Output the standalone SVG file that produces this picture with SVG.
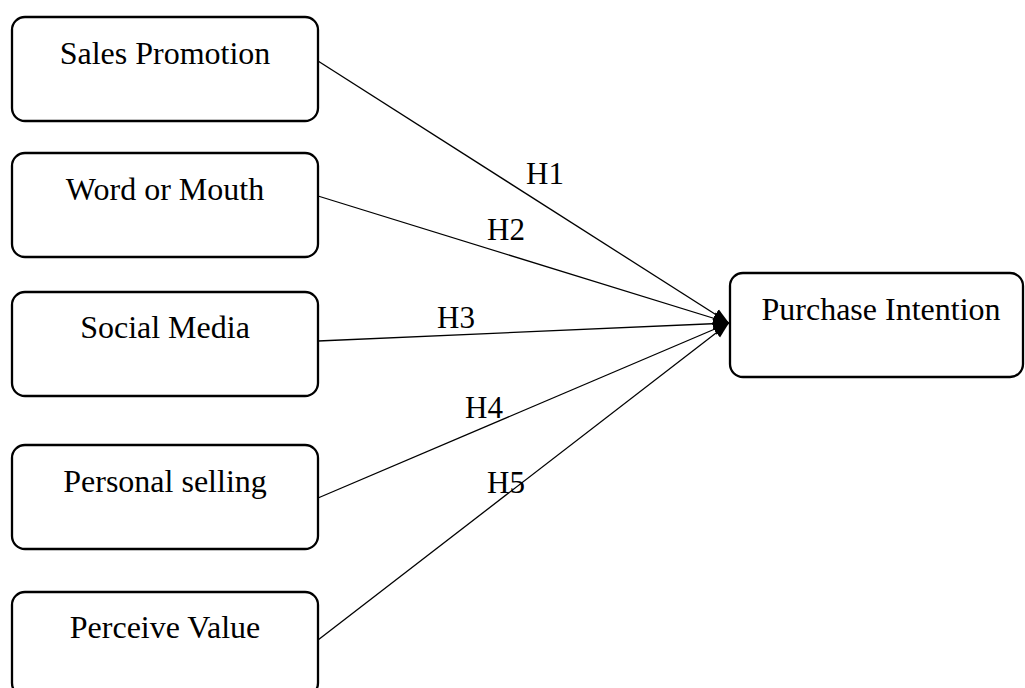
<svg xmlns="http://www.w3.org/2000/svg" width="1025" height="688" viewBox="0 0 1025 688">
<style>
.box{fill:#fff;stroke:#000;stroke-width:2.3}
.lbl{font-family:"Liberation Serif","Times New Roman",serif;font-size:32px;fill:#000;text-anchor:middle}
.h{font-family:"Liberation Serif","Times New Roman",serif;font-size:31px;fill:#000}
.edge{stroke:#000;stroke-width:1.3;fill:none}
</style>
<defs>
<marker id="arr" markerUnits="userSpaceOnUse" markerWidth="18" markerHeight="16" refX="16" refY="8" orient="auto">
<path d="M0,2 L16,8 L0,14 Z" fill="#000"/>
</marker>
</defs>
<rect width="1025" height="688" fill="#fff"/>
<g id="connectors">
<line class="edge" x1="318" y1="61" x2="729" y2="323" marker-end="url(#arr)"/>
<line class="edge" x1="318" y1="196" x2="729" y2="323" marker-end="url(#arr)"/>
<line class="edge" x1="318" y1="341" x2="729" y2="323" marker-end="url(#arr)"/>
<line class="edge" x1="318" y1="498" x2="729" y2="323" marker-end="url(#arr)"/>
<line class="edge" x1="318" y1="640" x2="729" y2="323" marker-end="url(#arr)"/>
</g>
<g id="labels">
<text class="h" x="526" y="184">H1</text>
<text class="h" x="487" y="240">H2</text>
<text class="h" x="437" y="328">H3</text>
<text class="h" x="465" y="418">H4</text>
<text class="h" x="487" y="493">H5</text>
</g>
<g id="sales-promotion">
<rect class="box" x="12" y="17" width="306" height="104" rx="13"/>
<text class="lbl" x="165" y="64">Sales Promotion</text>
</g>
<g id="word-or-mouth">
<rect class="box" x="12" y="153" width="306" height="104" rx="13"/>
<text class="lbl" x="165" y="200">Word or Mouth</text>
</g>
<g id="social-media">
<rect class="box" x="12" y="292" width="306" height="104" rx="13"/>
<text class="lbl" x="165" y="338">Social Media</text>
</g>
<g id="personal-selling">
<rect class="box" x="12" y="445" width="306" height="104" rx="13"/>
<text class="lbl" x="165" y="492">Personal selling</text>
</g>
<g id="perceive-value">
<rect class="box" x="12" y="592" width="306" height="104" rx="13"/>
<text class="lbl" x="165" y="638">Perceive Value</text>
</g>
<g id="purchase-intention">
<rect class="box" x="730" y="273" width="293" height="104" rx="13"/>
<text class="lbl" x="881" y="320">Purchase Intention</text>
</g>
</svg>
